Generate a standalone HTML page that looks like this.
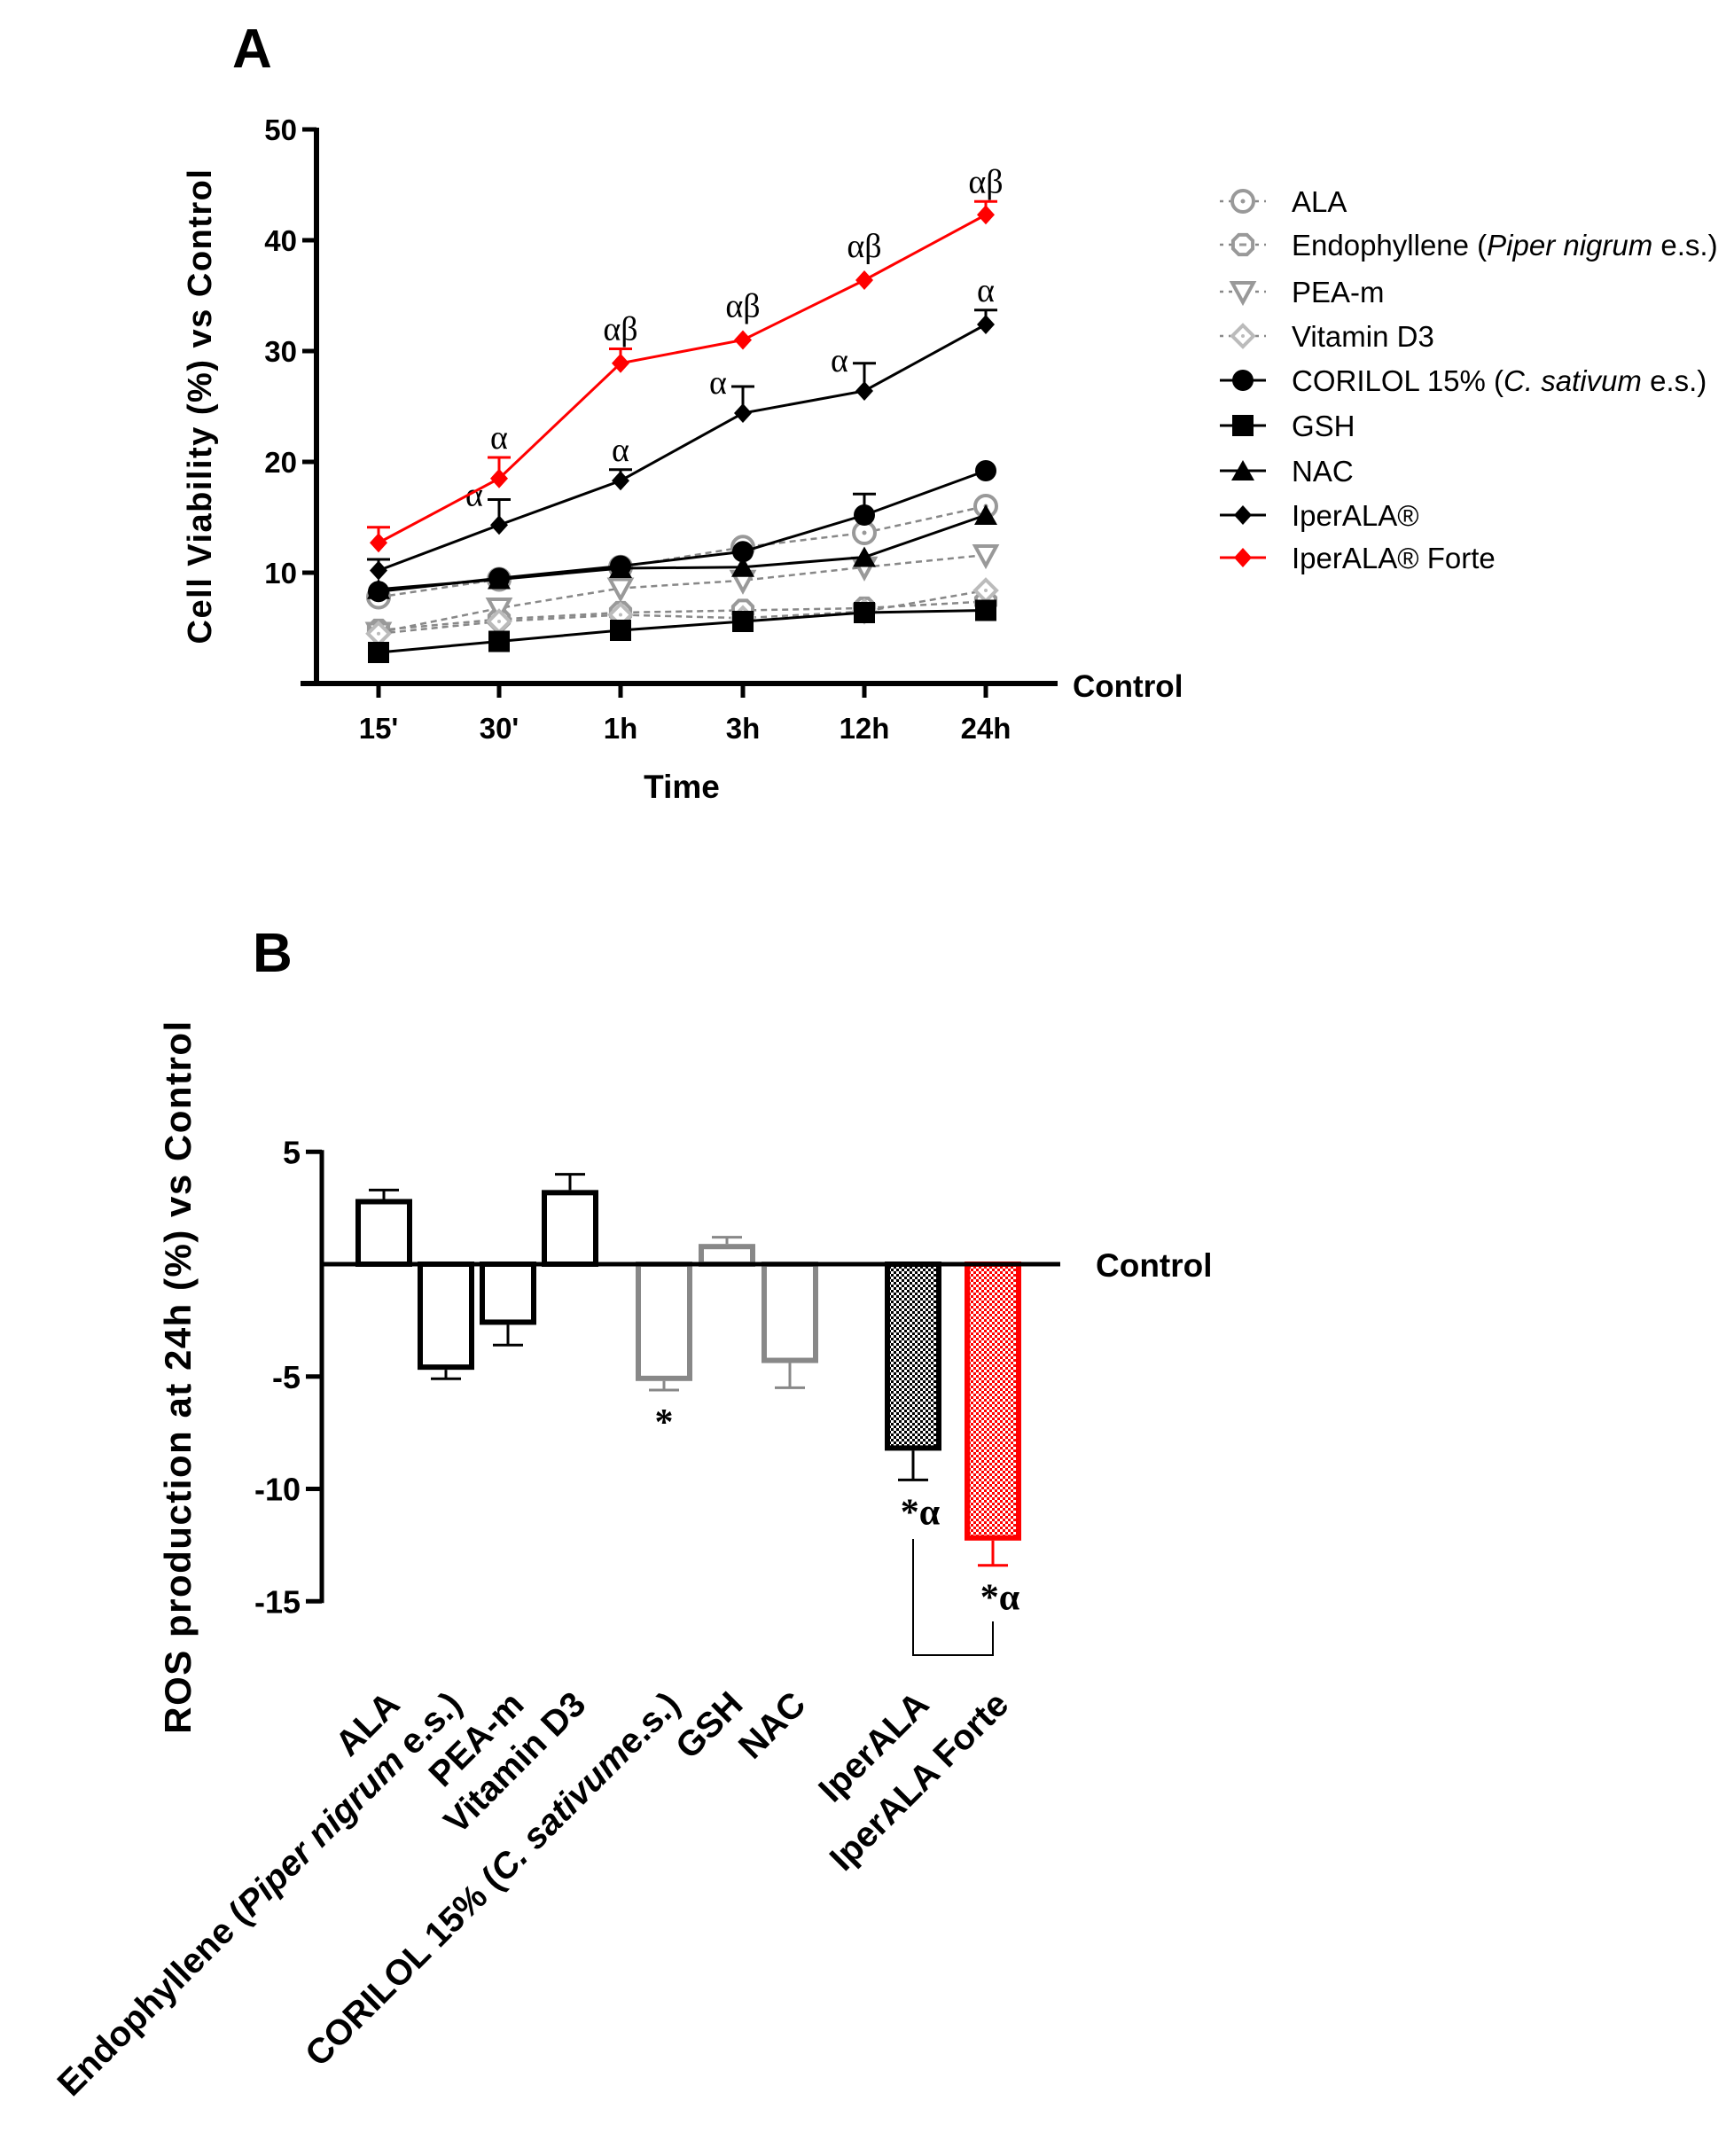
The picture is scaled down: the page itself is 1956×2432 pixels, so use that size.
<!DOCTYPE html>
<html><head><meta charset="utf-8"><style>
html,body{margin:0;padding:0;background:#fff}
svg{display:block;font-family:"Liberation Sans",Arial,sans-serif}
</style></head><body>
<svg id="fig" width="1956" height="2432" viewBox="0 0 1956 2432" xmlns="http://www.w3.org/2000/svg">
<defs>
<pattern id="chkB" width="6" height="6" patternUnits="userSpaceOnUse"><rect width="6" height="6" fill="#fff"/><rect width="3" height="3" fill="#000"/><rect x="3" y="3" width="3" height="3" fill="#000"/></pattern>
<pattern id="chkR" width="6" height="6" patternUnits="userSpaceOnUse"><rect width="6" height="6" fill="#fff"/><rect width="3" height="3" fill="#f00"/><rect x="3" y="3" width="3" height="3" fill="#f00"/></pattern>
</defs>
<text x="262" y="76" font-size="62" font-weight="bold">A</text>
<text x="285" y="1096" font-size="62" font-weight="bold">B</text>
<g id="chartA"></g>
<g id="legend"></g>
<g id="chartB"></g>
</svg>
<script>
// ---- Chart A data ----
const timeLabels = ["15'","30'","1h","3h","12h","24h"];
const yTicksA = [10,20,30,40,50];
const seriesNames = ["ALA","Endophyllene","PEA-m","Vitamin D3","CORILOL 15%","GSH","NAC","IperALA®","IperALA® Forte"];
const alaVals = [7.8,9.4,10.5,12.3,13.6,16.0];
const endoVals = [4.8,5.8,6.4,6.6,6.8,7.4];
const peaVals = [4.6,6.8,8.6,9.3,10.5,11.6];
const vitdVals = [4.5,5.6,6.2,5.9,6.5,8.4];
const corilolVals = [8.3,9.5,10.6,11.9,15.2,19.2];
const gshVals = [2.8,3.8,4.8,5.6,6.4,6.6];
const nacVals = [8.5,9.4,10.4,10.5,11.4,15.2];
const iperVals = [10.2,14.3,18.3,24.4,26.4,32.4];
const forteVals = [12.7,18.5,28.9,31.0,36.4,42.3];
const iperErr = [1.0,2.3,1.0,2.4,2.5,1.3];
const forteErr = [1.4,1.9,1.3,0,0,1.2];
const corilolErr = [0,0,0,0,1.9,0];
const iperSig = ["","α","α","α","α","α"];
const forteSig = ["","α","αβ","αβ","αβ","αβ"];
// ---- Chart B data ----
const rosCats = ["ALA","Endophyllene (Piper nigrum e.s.)","PEA-m","Vitamin D3","CORILOL 15% (C. sativume.s.)","GSH","NAC","IperALA","IperALA Forte"];
const rosVals = [2.9,-4.7,-2.7,3.3,-5.2,0.9,-4.4,-8.3,-12.3];
const rosErr = [0.4,0.4,0.9,0.7,0.4,0.3,1.1,1.3,1.1];
const rosSig = ["","","","","*","","","*α","*α"];
const yTicksB = [5,-5,-10,-15];

const NS="http://www.w3.org/2000/svg";
function mk(parent,tag,attrs,txt){const e=document.createElementNS(NS,tag);for(const k in attrs)e.setAttribute(k,attrs[k]);if(txt!==undefined)e.textContent=txt;parent.appendChild(e);return e;}

// ---- Chart A ----
const A=document.getElementById('chartA');
const ax0=357, ay0=771, ayScale=12.5;
const catX=[427,563,700,838,975,1112];
const xA=i=>catX[i];
const yA=v=>ay0-v*ayScale;
let el;
el=mk(A,'line',{x1:ax0,y1:yA(50)-2,x2:ax0,y2:ay0+2,stroke:'#000','stroke-width':6});


el=mk(A,'line',{x1:339,y1:ay0,x2:1193,y2:ay0,stroke:'#000','stroke-width':6});


yTicksA.forEach(t=>{
  mk(A,'line',{x1:ax0-16,y1:yA(t),x2:ax0,y2:yA(t),stroke:'#000','stroke-width':5});
  el=mk(A,'text',{x:ax0-22,y:yA(t)+12,'font-size':33,'font-weight':'bold','text-anchor':'end'},t);
  
  
});
timeLabels.forEach((t,i)=>{
  mk(A,'line',{x1:xA(i),y1:ay0,x2:xA(i),y2:ay0+16,stroke:'#000','stroke-width':5});
  el=mk(A,'text',{x:xA(i),y:ay0+62,'font-size':33,'font-weight':'bold','text-anchor':'middle'},t);
  
  
});
el=mk(A,'text',{x:769,y:900,'font-size':37,'font-weight':'bold','text-anchor':'middle'},'Time');


el=mk(A,'text',{x:1210,y:786,'font-size':35,'font-weight':'bold'},'Control');


el=mk(A,'text',{x:0,y:0,'font-size':38,'font-weight':'bold','text-anchor':'middle','letter-spacing':'1.5',transform:'translate(238,458) rotate(-90)'},'Cell Viability (%) vs Control');



function marker(g,type,x,y,color){
  const r=12;
  if(type==='circleO'){mk(g,'circle',{cx:x,cy:y,r:r,fill:'#fff',stroke:color,'stroke-width':4});mk(g,'circle',{cx:x,cy:y,r:2.5,fill:color});}
  else if(type==='octO'){let p=[];for(let k=0;k<8;k++){const a=Math.PI/8+k*Math.PI/4;p.push((x+r*Math.cos(a))+','+(y+r*Math.sin(a)));}mk(g,'polygon',{points:p.join(' '),fill:'#fff',stroke:color,'stroke-width':4});mk(g,'line',{x1:x-4,y1:y,x2:x+4,y2:y,stroke:color,'stroke-width':3});}
  else if(type==='triDownO'){mk(g,'polygon',{points:`${x-r},${y-r+2} ${x+r},${y-r+2} ${x},${y+r}`,fill:'#fff',stroke:color,'stroke-width':4});}
  else if(type==='diamO'){mk(g,'polygon',{points:`${x},${y-r} ${x+r},${y} ${x},${y+r} ${x-r},${y}`,fill:'#fff',stroke:color,'stroke-width':4});mk(g,'circle',{cx:x,cy:y,r:2,fill:color});}
  else if(type==='circle'){mk(g,'circle',{cx:x,cy:y,r:r,fill:color});}
  else if(type==='square'){mk(g,'rect',{x:x-r,y:y-r,width:2*r,height:2*r,fill:color});}
  else if(type==='tri'){mk(g,'polygon',{points:`${x-r-1},${y+r-1} ${x+r+1},${y+r-1} ${x},${y-r}`,fill:color});}
  else if(type==='diam'){mk(g,'polygon',{points:`${x},${y-11} ${x+10},${y} ${x},${y+11} ${x-10},${y}`,fill:color});}
}
const seriesDefs=[
  {n:'ala',v:alaVals,m:'circleO',c:'#999',d:true},
  {n:'endophyllene',v:endoVals,m:'octO',c:'#999',d:true},
  {n:'pea-m',v:peaVals,m:'triDownO',c:'#999',d:true},
  {n:'vitamin-d3',v:vitdVals,m:'diamO',c:'#bbb',d:true},
  {n:'gsh',v:gshVals,m:'square',c:'#000',d:false},
  {n:'nac',v:nacVals,m:'tri',c:'#000',d:false},
  {n:'corilol',v:corilolVals,m:'circle',c:'#000',d:false,e:corilolErr},
  {n:'iperala',v:iperVals,m:'diam',c:'#000',d:false,e:iperErr,s:iperSig},
  {n:'iperala-forte',v:forteVals,m:'diam',c:'#f00',d:false,e:forteErr,s:forteSig}
];
seriesDefs.forEach(sd=>{
  const g=mk(A,'g',{});
  
  
  const pts=sd.v.map((v,i)=>xA(i)+','+yA(v)).join(' ');
  mk(g,'polyline',{points:pts,fill:'none',stroke:sd.d?'#888':sd.c,'stroke-width':sd.d?2.5:3,'stroke-dasharray':sd.d?'7,5':'none'});
  sd.v.forEach((v,i)=>{
    if(sd.e&&sd.e[i]>0){
      const yt=yA(v+sd.e[i]);
      mk(g,'line',{x1:xA(i),y1:yA(v),x2:xA(i),y2:yt,stroke:sd.c,'stroke-width':3});
      mk(g,'line',{x1:xA(i)-13,y1:yt,x2:xA(i)+13,y2:yt,stroke:sd.c,'stroke-width':3});
    }
  });
  sd.v.forEach((v,i)=>{
    const pg=mk(g,'g',{});
    
    
    marker(pg,sd.m,xA(i),yA(v),sd.c);
  });
  if(sd.s){
    sd.v.forEach((v,i)=>{
      if(!sd.s[i])return;
      let x=xA(i), y=yA(v+(sd.e[i]||0))-10;
      if(sd.n==='iperala'&&(i===1||i===3||i===4)){x=xA(i)-28;y=yA(v)-22;}
      if(sd.n==='iperala-forte'&&(i===3||i===4)){y=yA(v)-26;}
      const t=mk(g,'text',{x:x,y:y,'font-size':38,'text-anchor':'middle','font-family':'"Liberation Serif",serif'},sd.s[i]);
      
      
    });
  }
});

// ---- Legend ----
const L=document.getElementById('legend');
const legY=[227,276,329,379,429,480,531,581,629];
const legOrder=[0,1,2,3,6,4,5,7,8];
const legTexts=[
  ['ALA'],['Endophyllene (',['Piper nigrum'],' e.s.)'],['PEA-m'],['Vitamin D3'],
  ['CORILOL 15% (',['C. sativum'],' e.s.)'],['GSH'],['NAC'],['IperALA®'],['IperALA® Forte']];
legOrder.forEach((si,k)=>{
  const sd=seriesDefs[si];
  const g=mk(L,'g',{});
  
  
  const y=legY[k];
  mk(g,'line',{x1:1376,y1:y,x2:1428,y2:y,stroke:sd.d?'#888':sd.c,'stroke-width':sd.d?2.5:3,'stroke-dasharray':sd.d?'4,6':'none'});
  marker(g,sd.m,1402,y,sd.c);
  const t=mk(g,'text',{x:1457,y:y+12,'font-size':33});
  legTexts[k].forEach(p=>{
    if(Array.isArray(p)){mk(t,'tspan',{'font-style':'italic'},p[0]);}
    else mk(t,'tspan',{},p);
  });
});

// ---- Chart B ----
const B=document.getElementById('chartB');
const bx0=363, by0=1426, byScale=25.35;
const barX=[433,503,573,643,749,820,891,1030,1120];
const bw=64;
const yB=v=>by0-v*byScale;
const barStroke=['#000','#000','#000','#000','#888','#888','#888','#000','#f00'];
const barFill=['#fff','#fff','#fff','#fff','#fff','#fff','#fff','url(#chkB)','url(#chkR)'];
el=mk(B,'line',{x1:bx0,y1:yB(5)-2,x2:bx0,y2:yB(-15)+2,stroke:'#000','stroke-width':5});


yTicksB.forEach(t=>{
  mk(B,'line',{x1:bx0-18,y1:yB(t),x2:bx0,y2:yB(t),stroke:'#000','stroke-width':5});
  el=mk(B,'text',{x:bx0-24,y:yB(t)+13,'font-size':36,'font-weight':'bold','text-anchor':'end'},t);
  
  
});
rosVals.forEach((v,i)=>{
  const g=mk(B,'g',{});
  
  
  const x=barX[i]-bw/2, y1=Math.min(yB(v),by0), h=Math.abs(yB(v)-by0);
  const end=v+(v>=0?rosErr[i]:-rosErr[i]);
  mk(g,'line',{x1:barX[i],y1:yB(v),x2:barX[i],y2:yB(end),stroke:barStroke[i],'stroke-width':3});
  mk(g,'line',{x1:barX[i]-17,y1:yB(end),x2:barX[i]+17,y2:yB(end),stroke:barStroke[i],'stroke-width':3});
  mk(g,'rect',{x:x+3,y:y1+(v>=0?3:0),width:bw-6,height:h-3,fill:barFill[i],stroke:barStroke[i],'stroke-width':6});
  if(rosSig[i]){
    const t=mk(B,'text',{x:barX[i]+(rosSig[i].length>1?8:0),y:yB(end)+50,'font-size':42,'text-anchor':'middle','font-weight':'bold','font-family':'"Liberation Serif",serif'},rosSig[i]);
    
    
  }
});
el=mk(B,'line',{x1:bx0,y1:by0,x2:1196,y2:by0,stroke:'#000','stroke-width':5});


el=mk(B,'text',{x:1236,y:1440,'font-size':37,'font-weight':'bold'},'Control');


el=mk(B,'polyline',{points:`${barX[7]},1736 ${barX[7]},1867 ${barX[8]},1867 ${barX[8]},1829`,fill:'none',stroke:'#000','stroke-width':2});


el=mk(B,'text',{x:0,y:0,'font-size':42,'font-weight':'bold','text-anchor':'middle','letter-spacing':'1.5',transform:'translate(215,1553) rotate(-90)'},'ROS production at 24h (%) vs Control');


rosCats.forEach((c,i)=>{
  const x=barX[i]+20, y=1925;
  const t=mk(B,'text',{x:0,y:0,'font-size':40,'font-weight':'bold','text-anchor':'end',transform:`translate(${x},${y}) rotate(-45)`});
  
  
  if(i===1){mk(t,'tspan',{},'Endophyllene (');mk(t,'tspan',{'font-style':'italic'},'Piper nigrum');mk(t,'tspan',{},' e.s.)');}
  else if(i===4){mk(t,'tspan',{},'CORILOL 15% (');mk(t,'tspan',{'font-style':'italic'},'C. sativum');mk(t,'tspan',{},'e.s.)');}
  else t.textContent=c;
});
</script>
</body></html>
